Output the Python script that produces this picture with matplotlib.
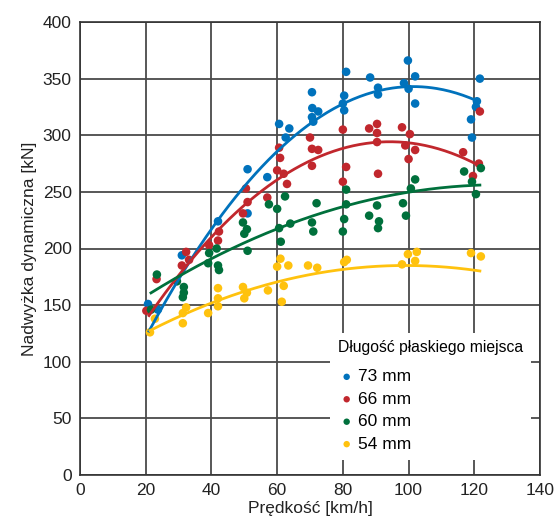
import numpy as np
import matplotlib
matplotlib.use("Agg")
from matplotlib import pyplot as plt

plt.rcParams['font.family'] = ['Liberation Sans', 'DejaVu Sans']

# punkty pomiarowe
blue_x = [20.7, 23.7, 31, 42, 51, 51, 57, 60.6, 62.6, 63.7, 70.6, 70.7, 71, 72.5, 70.6,
          81, 80.4, 80, 80.4, 88.3, 90.7, 90.7, 99.8, 102, 98.6, 100, 102,
          121.7, 120.8, 120.5, 119, 119.3]
blue_y = [151, 146, 194, 224, 231, 270, 263, 310, 298, 306, 338, 324, 312, 321, 316,
          356, 335, 328, 322, 351, 342, 336, 366, 352, 346, 341, 328,
          350, 330, 325, 314, 298]

red_x = [20.2, 23.3, 31, 32.3, 33.2, 39.3, 42.3, 42, 49.6, 51, 50.5, 57, 60, 62, 63,
         60.6, 60.9, 70, 70.6, 72.5, 70.6, 80, 81, 80, 88, 90.4, 90.4, 90.4, 90.7,
         98, 100.4, 99, 102, 100, 116.6, 121.4, 119.6, 121.7]
red_y = [145, 173, 185, 197, 190, 203, 215, 207, 231, 241, 253, 245, 269, 266, 257,
         289, 280, 298, 288, 287, 273, 305, 272, 259, 306, 310, 302, 294, 266,
         307, 301, 291, 287, 279, 285, 275, 264, 321]

green_x = [21.6, 23.4, 29.5, 31.6, 31.6, 31.3, 39, 39.3, 41.6, 42, 42.3, 49.6, 50.8, 50,
           51, 57.5, 60, 62.4, 60.6, 61.1, 64, 70.6, 71, 72, 81, 81, 80.4, 80,
           90.4, 88, 91, 90.7, 98.3, 99.2, 100.7, 102, 116.9, 122, 119.3, 120.5]
green_y = [146, 177, 171, 166, 161, 157, 187, 196, 200, 185, 181, 223, 217, 213,
           198, 239, 235, 246, 218, 206, 222, 223, 215, 240, 252, 239, 226, 215,
           238, 229, 224, 218, 240, 229, 253, 261, 268, 271, 259, 248]

yellow_x = [21.3, 22.8, 31.3, 32.3, 31.3, 39, 42, 42, 42, 49.6, 50.8, 50, 57.2, 62, 61.4,
            61, 60, 63.4, 69.4, 72.2, 80.4, 81.2, 98, 99.8, 102.5, 102, 119, 122]
yellow_y = [126, 138, 143, 148, 134, 143, 165, 156, 149, 166, 161, 156, 163, 167, 153,
            191, 184, 185, 185, 183, 188, 190, 186, 195, 197, 189, 196, 193]

# krzywe trendu (odczytane punkty na liniach)
blue_cx = [21, 42, 61, 71, 80, 90, 100, 110, 120]
blue_cy = [128, 224, 287, 311, 331, 339, 343, 340, 331]
red_cx = [21, 40.5, 61, 67, 80, 90, 100, 110, 120]
red_cy = [141, 212, 260, 274, 289, 294, 293, 289, 274]
green_cx = [21.6, 40.5, 67, 73, 80, 100, 121.7]
green_cy = [161, 192, 224, 230, 237, 252, 255]
yellow_cx = [21.3, 42, 67, 73, 80, 100, 121.7]
yellow_cy = [126, 157, 175, 178, 181, 184, 181]

labels = ['73 mm', '66 mm', '60 mm', '54 mm']
colors = ['#0072bc', '#c1272d', '#00703c', '#ffc20e']

series = [
    (blue_x, blue_y, blue_cx, blue_cy),
    (red_x, red_y, red_cx, red_cy),
    (green_x, green_y, green_cx, green_cy),
    (yellow_x, yellow_y, yellow_cx, yellow_cy),
]

fig = plt.figure(figsize=(5.57, 5.25), dpi=100)
ax = fig.add_axes([80 / 557, 1 - 475 / 525, 460 / 557, 453 / 525])

for (px, py, cx, cy), lab, col in zip(series, labels, colors):
    ax.scatter(px, py, s=38, color=col, edgecolors='none', label=lab, zorder=3)

for (px, py, cx, cy), col in zip(series, colors):
    coef = np.polyfit(cx, cy, 2)
    xs = np.linspace(min(cx), max(cx), 200)
    ax.plot(xs, np.polyval(coef, xs), color=col, lw=2, zorder=4)

ax.set_xlim(0, 140)
ax.set_ylim(0, 400)
ax.set_xticks(np.arange(0, 141, 20))
ax.set_yticks(np.arange(0, 401, 50))
ax.grid(True, color='#4a4a4a', lw=1.3, zorder=0)
ax.set_axisbelow(True)
ax.tick_params(length=0, labelsize=12.5, pad=6, colors='#222222')
for sp in ax.spines.values():
    sp.set_color('#333333')
    sp.set_linewidth(1.2)

ax.set_xlabel('Prędkość [km/h]', fontsize=12.5, labelpad=2, color='#222222')
ax.set_ylabel('Nadwyżka dynamiczna [kN]', fontsize=12.5, labelpad=4, color='#222222')

leg = ax.legend(loc='lower left', bbox_to_anchor=(0.525, 0.015), frameon=True,
                title='Długość płaskiego miejsca', title_fontsize=11.3, fontsize=12.5,
                markerscale=0.75, handletextpad=0.15, handlelength=1.0, labelspacing=0.42,
                borderpad=0.45, alignment='left', fancybox=False)
leg._legend_box.sep = 10
leg.get_frame().set_facecolor('white')
leg.get_frame().set_edgecolor('none')
leg.get_frame().set_alpha(1)
leg.set_zorder(5)

fig.savefig('out.png', dpi=100)
